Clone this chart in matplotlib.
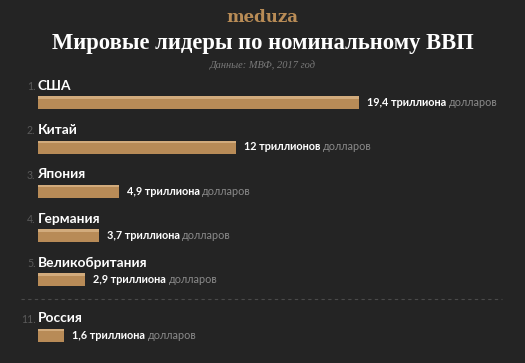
import matplotlib
matplotlib.use("Agg")
import matplotlib.pyplot as plt

# ? Data: IMF 2017, nominal GDP (trillions USD)
ranks = ["1.", "2.", "3.", "4.", "5.", "11."]
countries = ["США", "Китай", "Япония", "Германия", "Великобритания", "Россия"]
values = [19.4, 12, 4.9, 3.7, 2.9, 1.6]
value_labels = ["19,4 триллиона", "12 триллионов", "4,9 триллиона",
                "3,7 триллиона", "2,9 триллиона", "1,6 триллиона"]
unit_label = "долларов"

BG = "#242424"
BAR = "#b88b57"
BAR_TOP = "#d2ab7c"
PX_X = 16.55   # pixels per trillion
PX_Y = 44.3    # pixels per row
X0 = 37.5      # bar origin, px
Y0 = 102.7     # first bar centre, px
W, H = 525, 363


def main():
    fig = plt.figure(figsize=(W / 100, H / 100), dpi=100, facecolor=BG)
    ax = fig.add_axes([0, 0, 1, 1])
    ax.set_facecolor(BG)
    ax.set_xlim(-X0 / PX_X, (W - X0) / PX_X)
    ax.set_ylim((H - Y0) / PX_Y, -Y0 / PX_Y)
    ax.axis("off")

    # * Row positions, with a gap before Russia
    rows = [i if i < 5 else i + 0.255 for i in range(len(values))]
    bh = 13 / PX_Y

    ax.barh(rows, values, height=bh, color=BAR, align="center")
    ax.barh([r - bh / 2 + 1.2 / PX_Y for r in rows], values,
            height=2.4 / PX_Y, color=BAR_TOP, align="center")

    font = ["Lato", "DejaVu Sans"]
    for r, c, rk, v, lab in zip(rows, countries, ranks, values, value_labels):
        ax.text(0, r - 17 / PX_Y, c, color="white", fontsize=9.9,
                family=font, weight="bold", va="center", ha="left")
        ax.text(-2 / PX_X, r - 16 / PX_Y, rk, color="#5a5a5a",
                fontsize=7.6, family=font, va="center", ha="right")
        t = ax.text(v + 8 / PX_X, r, lab + " ", color="white", fontsize=7.8,
                    family=font, weight="bold", va="center", ha="left")
        ax.annotate(unit_label, xycoords=t, xy=(1, 0.5), va="center",
                    ha="left", color="#8a8a8a", fontsize=7.8, family=font)

    # ! Dashed separator
    ax.plot([21 / PX_X - X0 / PX_X, 502 / PX_X - X0 / PX_X],
            [(299.3 - Y0) / PX_Y] * 2, color="#4a4a4a", lw=0.8,
            ls=(0, (3, 3)))

    fig.text(0.5, 1 - 17 / H, "meduza", color="#b98c56", fontsize=12,
             family="DejaVu Serif", weight="bold", ha="center", va="center")
    fig.text(0.5, 1 - 44 / H, "Мировые лидеры по номинальному ВВП",
             color="white", fontsize=16.3, family="Liberation Serif",
             weight="bold", ha="center", va="center")
    fig.text(0.5, 1 - 65 / H, "Данные: МВФ, 2017 год", color="#7a7a7a",
             fontsize=7.5, family="Liberation Serif", style="italic",
             ha="center", va="center")

    fig.savefig("out.png", facecolor=BG)


if __name__ == "__main__":
    main()
